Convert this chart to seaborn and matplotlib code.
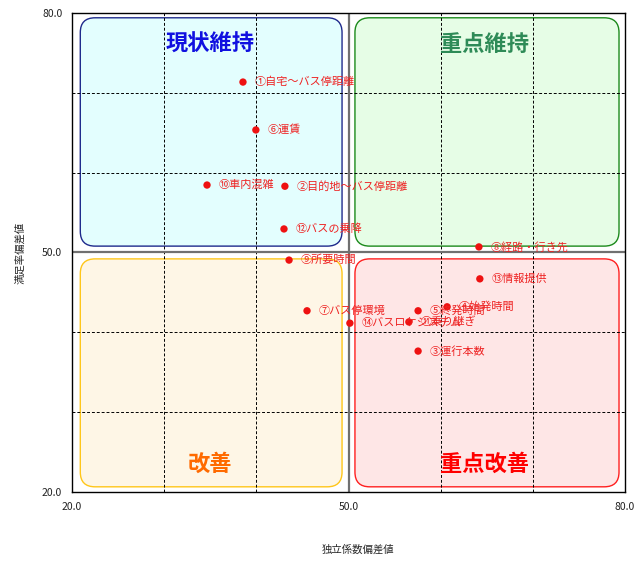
import pandas as pd
import seaborn as sns
import matplotlib.pyplot as plt
from matplotlib.patches import FancyBboxPatch

# item labels and their coordinates
labels = ['①自宅～バス停距離', '②目的地～バス停距離', '③運行本数', '④始発時間',
          '⑤終発時間', '⑥運賃', '⑦バス停環境', '⑧経路・行き先', '⑨所要時間',
          '⑩車内混雑', '⑪乗り継ぎ', '⑫バスの乗降', '⑬情報提供', '⑭バスロケシステム']
independence = [38.55, 43.1, 57.55, 60.7, 57.55, 39.95, 45.5, 64.15, 43.55,
                34.65, 56.55, 43.0, 64.25, 50.15]
satisfaction = [71.35, 58.3, 37.65, 43.2, 42.7, 65.35, 42.7, 50.7, 49.05,
                58.45, 41.3, 52.95, 46.7, 41.15]

quadrant_names = ['現状維持', '重点維持', '改善', '重点改善']
quadrant_fill = ['#e3fefe', '#e6fde6', '#fef6e6', '#fee6e6']
quadrant_edge = ['#1f2a8c', '#1c8a1c', '#ffc61a', '#ff2020']
quadrant_text = ['#1010e0', '#2e8b57', '#ff6a00', '#ff0000']

df = pd.DataFrame({'x': independence, 'y': satisfaction, 'label': labels})

sns.set_style('white')
plt.rcParams['font.family'] = ['Noto Sans CJK JP', 'DejaVu Sans']

fig = plt.figure(figsize=(6.43, 5.61), dpi=100)
ax = fig.add_axes([72 / 643, 1 - 492 / 561, 553 / 643, 479 / 561])
ax.set_xlim(20, 80)
ax.set_ylim(20, 80)

# rounded quadrant boxes
aspect = (553 / 60) / (479 / 60)
boxes = [(20.9, 50.8, 28.4, 28.6), (50.7, 50.8, 28.65, 28.6),
         (20.9, 20.65, 28.4, 28.55), (50.7, 20.65, 28.65, 28.55)]
text_pos = [(35.0, 76.1), (64.8, 76.1), (35.0, 23.5), (64.8, 23.5)]
for (x0, y0, w, h), fc, ec, tc, name, (tx, ty) in zip(
        boxes, quadrant_fill, quadrant_edge, quadrant_text, quadrant_names, text_pos):
    ax.add_patch(FancyBboxPatch((x0, y0), w, h,
                                boxstyle='round,pad=0,rounding_size=1.6',
                                mutation_aspect=aspect, facecolor=fc,
                                edgecolor=ec, lw=1.0, zorder=0.5))
    ax.text(tx, ty, name, color=tc, fontsize=16, fontweight='bold',
            ha='center', va='center', zorder=3)

# grid
for v in [30, 40, 60, 70]:
    ax.axvline(v, color='black', ls=(0, (3, 2)), lw=0.7, zorder=1)
    ax.axhline(v, color='black', ls=(0, (3, 2)), lw=0.7, zorder=1)
ax.axvline(50, color='#707070', lw=1.6, zorder=1)
ax.axhline(50, color='#707070', lw=1.6, zorder=1)

sns.scatterplot(data=df, x='x', y='y', color='#ee1111', s=28,
                edgecolor='none', ax=ax, zorder=4)
for _, r in df.iterrows():
    ax.annotate(r['label'], (r['x'], r['y']), xytext=(8.5, 0),
                textcoords='offset points', va='center', ha='left',
                fontsize=8, color='#ee2222', zorder=5)

ax.set_xticks([20, 50, 80])
ax.set_yticks([20, 50, 80])
ax.set_xticklabels(['20.0', '50.0', '80.0'], fontsize=7.5, color='#222222')
ax.set_yticklabels(['20.0', '50.0', '80.0'], fontsize=7.5, color='#222222')
ax.tick_params(length=0, pad=7)
ax.set_xlabel('独立係数偏差値', fontsize=7.5)
ax.set_ylabel('満足率偏差値', fontsize=7.5)
ax.xaxis.set_label_coords(0.518, -0.121)
ax.yaxis.set_label_coords(-0.094, 0.5)
ax.xaxis.label.set_va('center')
ax.yaxis.label.set_va('center')
for s in ax.spines.values():
    s.set_color('black')
    s.set_linewidth(1.0)

fig.savefig('out.png', dpi=100)
